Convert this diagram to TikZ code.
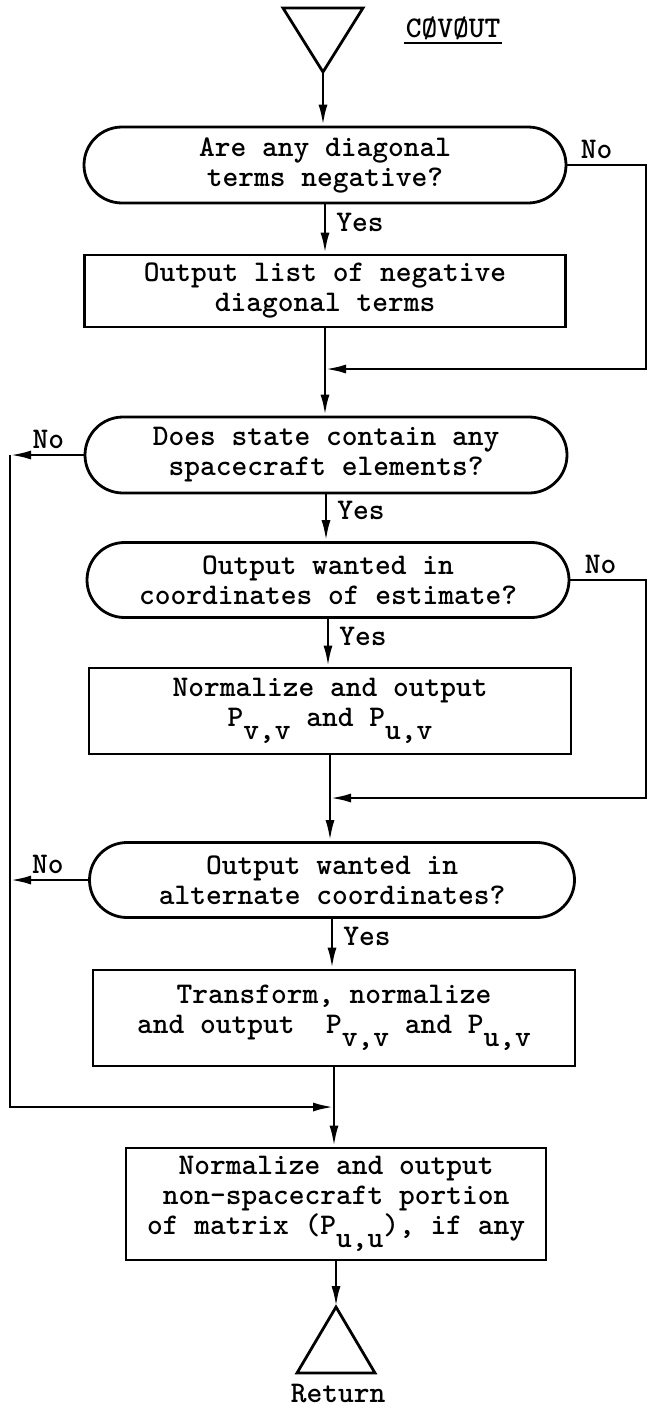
\documentclass[tikz,border=0pt]{standalone}
\usetikzlibrary{shapes.misc,arrows.meta,calc}
\newcommand\lowr[1]{\raisebox{-0.42em}{#1}}
\begin{document}
\begin{tikzpicture}[x=1pt,y=-1pt, line width=2.8pt,
 tf/.style={font=\fontsize{30}{30}\selectfont\ttfamily\bfseries},
 dec/.style={draw, rounded rectangle, minimum height=76pt, inner sep=0pt, align=center, tf},
 proc/.style={draw, rectangle, inner sep=0pt, align=center, tf},
 lbl/.style={tf, inner sep=0pt},
 arr/.style={-{Latex[length=21pt,width=9pt]}}]
\useasboundingbox (0,0) rectangle (650,1408);
% start terminal
\draw (283,8) -- (363,8) -- (323,72) -- cycle;
\coordinate (topapex) at (323,72);
\node[lbl] (cov) at (453,28) {CØVØUT};
\draw[line width=2.6pt] ([yshift=-6pt]cov.base west) -- ([yshift=-6pt]cov.base east);
% nodes
\node[dec, minimum width=482pt] (dec1) at (325,165) {Are any diagonal\\terms negative?};
\node[proc, minimum width=481pt, minimum height=72pt] (box1) at (325,291) {Output list of negative\\diagonal terms};
\node[dec, minimum width=482pt] (dec2) at (326,455) {Does state contain any\\spacecraft elements?};
\node[dec, minimum width=482pt, minimum height=75pt] (dec3) at (328,580) {Output wanted in\\coordinates of estimate?};
\node[proc, minimum width=482pt, minimum height=86pt] (box2) at (330,711) {Normalize and output\\P\lowr{v,v} and P\lowr{u,v}};
\node[dec, minimum width=485pt, minimum height=75pt] (dec4) at (332,880) {Output wanted in\\alternate coordinates?};
\node[proc, minimum width=482pt, minimum height=96pt] (box3) at (334,1018) {Transform, normalize\\and output\ \ P\lowr{v,v} and P\lowr{u,v}};
\node[proc, minimum width=420pt, minimum height=112pt] (box4) at (336,1204) {Normalize and output\\non-spacecraft portion\\of matrix (P\lowr{u,u}), if any};
% end terminal
\draw (297,1373) -- (375,1373) -- (336,1307) -- cycle;
\coordinate (botapex) at (336,1307);
\node[lbl] (ret) at (338,1393) {Return};
% helper coordinates
\coordinate (lx) at (10,0);
\coordinate (r1) at (646,369);
\coordinate (r2) at (646,798);
\coordinate (l2) at (10,1107);
% connectors
\draw[arr] (topapex) -- (topapex |- dec1.north);
\draw[arr] (dec1.south) -- (dec1.south |- box1.north);
\draw[arr] (dec1.east) -| (r1) -- (r1 -| box1.south);
\draw[arr] (box1.south) -- (box1.south |- dec2.north);
\draw[arr] (dec2.west) -- (dec2.west -| lx);
\draw[arr] (dec2.west -| lx) -- (l2) -- (l2 -| box3.south);
\draw[arr] (dec2.south) -- (dec2.south |- dec3.north);
\draw[arr] (dec3.east) -| (r2) -- (r2 -| box2.south);
\draw[arr] (dec3.south) -- (dec3.south |- box2.north);
\draw[arr] (box2.south) -- (box2.south |- dec4.north);
\draw[arr] (dec4.west) -- (dec4.west -| lx);
\draw[arr] (dec4.south) -- (dec4.south |- box3.north);
\draw[arr] (box3.south) -- (box3.south |- box4.north);
\draw[arr] (box4.south) -- (box4.south |- botapex);
% labels
\node[lbl, anchor=west] (y1) at ([xshift=10pt,yshift=-18pt]dec1.south) {Yes};
\node[lbl, anchor=west] (y2) at ([xshift=10pt,yshift=-16pt]dec2.south) {Yes};
\node[lbl, anchor=west] (y3) at ([xshift=10pt,yshift=-18pt]dec3.south) {Yes};
\node[lbl, anchor=west] (y4) at ([xshift=10pt,yshift=-18pt]dec4.south) {Yes};
\node[lbl, anchor=south west] (n1) at ([xshift=12pt,yshift=5pt]dec1.east) {No};
\node[lbl, anchor=south west] (n3) at ([xshift=13pt,yshift=5pt]dec3.east) {No};
\node[lbl, anchor=south east] (n2) at ([xshift=-18pt,yshift=5pt]dec2.west) {No};
\node[lbl, anchor=south east] (n4) at ([xshift=-23pt,yshift=5pt]dec4.west) {No};
\end{tikzpicture}
\end{document}
